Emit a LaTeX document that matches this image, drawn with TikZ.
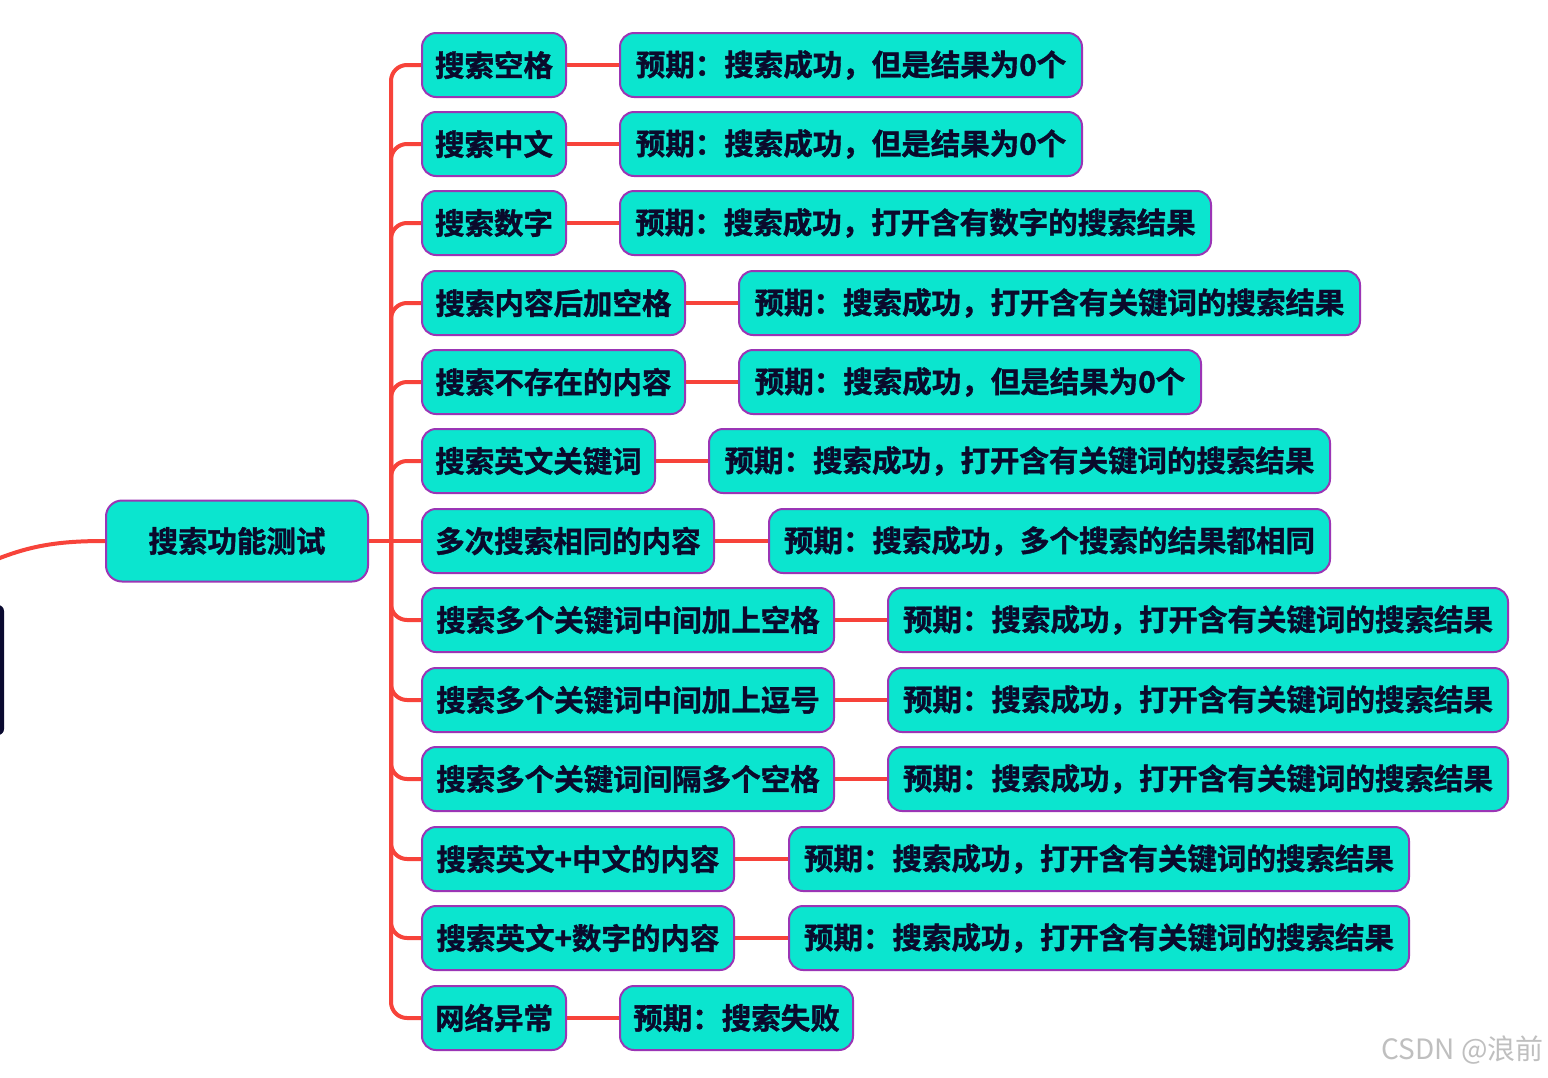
\documentclass[tikz,border=0pt]{standalone}
\usepackage{fontspec}
\newfontfamily\cjkb[FakeBold=1.3]{Noto Sans CJK SC Bold}
\newfontfamily\cjkr{Noto Sans CJK SC}
\definecolor{boxfill}{HTML}{0BE5CF}
\definecolor{boxline}{HTML}{9B35B5}
\definecolor{linkred}{HTML}{F7433A}
\definecolor{txt}{HTML}{0A0A2C}
\definecolor{navy}{HTML}{0A0A30}
\tikzset{
  box/.style={draw=boxline, line width=2pt, fill=boxfill, rounded corners=14pt,
    minimum height=64pt, inner xsep=0pt, inner ysep=0pt, text=txt,
    font=\cjkb\fontsize{29.5}{30}\selectfont, anchor=west},
  link/.style={draw=linkred, line width=4pt},
  trunk/.style={link, rounded corners=16pt}
}
\begin{document}
\begin{tikzpicture}[x=1pt,y=-1pt]
\clip (0,0) rectangle (1548,1077);
\fill[white] (0,0) rectangle (1548,1077);
% partial shape at left edge
\fill[navy, rounded corners=6pt] (-30,605) rectangle (4,735);
% root
\node[box, minimum width=262pt, minimum height=81pt, rounded corners=16pt] (root) at (105,541) {搜索功能测试};
\draw[link] (-10,562) .. controls (30,545) and (60,541) .. (root.west);
% children
\node[box, minimum width=144pt] (c1) at (421,65) {搜索空格};
\node[box, minimum width=144pt] (c2) at (421,144) {搜索中文};
\node[box, minimum width=144pt] (c3) at (421,223) {搜索数字};
\node[box, minimum width=263pt] (c4) at (421,303) {搜索内容后加空格};
\node[box, minimum width=263pt] (c5) at (421,382) {搜索不存在的内容};
\node[box, minimum width=233pt] (c6) at (421,461) {搜索英文关键词};
\node[box, minimum width=292pt] (c7) at (421,541) {多次搜索相同的内容};
\node[box, minimum width=412pt] (c8) at (421,620) {搜索多个关键词中间加上空格};
\node[box, minimum width=412pt] (c9) at (421,700) {搜索多个关键词中间加上逗号};
\node[box, minimum width=412pt] (c10) at (421,779) {搜索多个关键词间隔多个空格};
\node[box, minimum width=312pt] (c11) at (421,859) {搜索英文+中文的内容};
\node[box, minimum width=312pt] (c12) at (421,938) {搜索英文+数字的内容};
\node[box, minimum width=144pt] (c13) at (421,1018) {网络异常};
% leaves
\node[box, minimum width=462pt] (l1) at (619,65) {预期：搜索成功，但是结果为0个};
\node[box, minimum width=462pt] (l2) at (619,144) {预期：搜索成功，但是结果为0个};
\node[box, minimum width=591pt] (l3) at (619,223) {预期：搜索成功，打开含有数字的搜索结果};
\node[box, minimum width=621pt] (l4) at (738,303) {预期：搜索成功，打开含有关键词的搜索结果};
\node[box, minimum width=462pt] (l5) at (738,382) {预期：搜索成功，但是结果为0个};
\node[box, minimum width=621pt] (l6) at (708,461) {预期：搜索成功，打开含有关键词的搜索结果};
\node[box, minimum width=561pt] (l7) at (768,541) {预期：搜索成功，多个搜索的结果都相同};
\node[box, minimum width=620pt] (l8) at (887,620) {预期：搜索成功，打开含有关键词的搜索结果};
\node[box, minimum width=620pt] (l9) at (887,700) {预期：搜索成功，打开含有关键词的搜索结果};
\node[box, minimum width=620pt] (l10) at (887,779) {预期：搜索成功，打开含有关键词的搜索结果};
\node[box, minimum width=620pt] (l11) at (788,859) {预期：搜索成功，打开含有关键词的搜索结果};
\node[box, minimum width=620pt] (l12) at (788,938) {预期：搜索成功，打开含有关键词的搜索结果};
\node[box, minimum width=233pt] (l13) at (619,1018) {预期：搜索失败};
% connectors
\coordinate (j) at (391,541);
\draw[link] (root.east) -- (c7.west);
\foreach \i in {1,2,3,4,5,6,8,9,10,11,12,13} {
  \draw[trunk] (j) |- (c\i.west);
}
\foreach \i in {1,...,13} {
  \draw[link] (c\i.east) -- (l\i.west);
}
% watermark
\node[anchor=east, text=black!25, font=\cjkr\fontsize{28}{30}\selectfont, inner sep=0pt] (wm) at (1544,1050) {CSDN @浪前};
\end{tikzpicture}
\end{document}
